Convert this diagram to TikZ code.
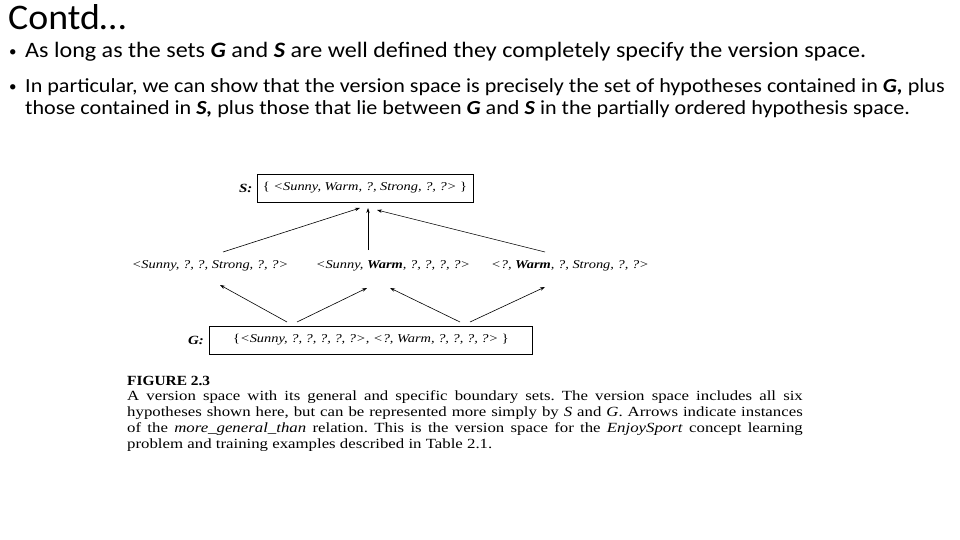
\documentclass[tikz,border=0pt]{standalone}
\usepackage{fontspec}
\usepackage{graphicx}
\setmainfont{Liberation Serif}
\newfontfamily\slidefont{Carlito}
\usetikzlibrary{arrows.meta,positioning,calc}
% the scanned figure and slide text are stretched sideways
\newcommand{\wide}[2][1.2]{\scalebox{#1}[1]{#2}}

\begin{document}
\begin{tikzpicture}[x=1pt,y=-1pt,
    slide/.style={font=\slidefont\fontsize{20}{22}\selectfont, anchor=base west, inner sep=0pt},
    bullet/.style={font=\slidefont\fontsize{15}{15}\selectfont, anchor=base west, inner sep=0pt},
    hyp/.style={font=\fontsize{12}{13}\selectfont\itshape, inner sep=1pt},
    setbox/.style={draw, line width=0.9pt, minimum height=28, inner sep=2pt, font=\fontsize{12}{13}\selectfont},
    setlabel/.style={font=\fontsize{12.5}{13}\selectfont\bfseries\itshape, inner sep=1pt},
    gen/.style={-{Stealth[length=5pt,width=3.4pt]}, line width=0.6pt}]
  \useasboundingbox (0,0) rectangle (960,540);
  % slide text
  \node[slide, font=\slidefont\fontsize{36}{40}\selectfont] (title) at (8,30) {\wide[1.05]{Contd…}};
  \node[bullet] (b1) at (9,57) {•};
  \node[slide, font=\slidefont\fontsize{22}{22}\selectfont] (t1) at (25,58) {\wide[1.096]{As long as the sets \textbf{\textit{G}} and \textbf{\textit{S}} are well defined they completely specify the version space.}};
  \node[bullet] (b2) at (9,92) {•};
  \node[slide, align=left] (t2) at (25,115) {\wide[1.105]{In particular, we can show that the version space is precisely the set of hypotheses contained in \textbf{\textit{G,}} plus}\\
    \wide[1.105]{those contained in \textbf{\textit{S,}} plus those that lie between \textbf{\textit{G}} and \textbf{\textit{S}} in the partially ordered hypothesis space.}};

  % boundary sets and hypotheses
  \node[setbox, minimum width=216] (sbox) at (365,188) {\wide{\{ \textit{<Sunny, Warm, ?, Strong, ?, ?>} \}}};
  \node[setlabel, left=3pt of sbox] (slab) {\wide{S:}};
  \node[hyp] (hl) at (210,266) {\wide{<Sunny, ?, ?, Strong, ?, ?>}};
  \node[hyp] (hm) at (393,266) {\wide{<Sunny, \textbf{Warm}, ?, ?, ?, ?>}};
  \node[hyp] (hr) at (570,266) {\wide{<?, \textbf{Warm}, ?, Strong, ?, ?>}};
  \node[setbox, minimum width=323] (gbox) at (371,340) {\wide{\{\textit{<Sunny, ?, ?, ?, ?, ?>, <?, Warm, ?, ?, ?, ?>} \}}};
  \node[setlabel, left=4pt of gbox] (glab) {\wide{G:}};

  \draw[gen] ($(hl)+(13,-14)$) -- ($(sbox)+(-5,20)$);
  \draw[gen] ($(hm)+(-25,-16)$) -- ($(sbox)+(3,20)$);
  \draw[gen] ($(hr)+(-25,-14)$) -- ($(sbox)+(12,22)$);
  \draw[gen] ($(gbox)+(-84,-18)$) -- ($(hl)+(10,19)$);
  \draw[gen] ($(gbox)+(-74,-18)$) -- ($(hm)+(-26,22)$);
  \draw[gen] ($(gbox)+(89,-18)$) -- ($(hm)+(-3,22)$);
  \draw[gen] ($(gbox)+(99,-18)$) -- ($(hr)+(-25,21)$);

  % caption
  \node[anchor=base west, inner sep=0pt, font=\fontsize{14}{16}\selectfont\bfseries] (figno) at (127,385) {\wide[1.1]{FIGURE 2.3}};
  \node[anchor=north west, inner sep=0pt, font=\fontsize{14}{16}\selectfont] (caption) at (127,390)
    {\wide{\parbox[t]{563pt}{\frenchspacing A version space with its general and specific boundary sets. The version space includes all six\linebreak
     hypotheses shown here, but can be represented more simply by \textit{S} and \textit{G}. Arrows indicate instances\linebreak
     of the \textit{more\_general\_than} relation. This is the version space for the \textit{EnjoySport} concept learning\linebreak
     problem and training examples described in Table 2.1.}}};
\end{tikzpicture}
\end{document}
